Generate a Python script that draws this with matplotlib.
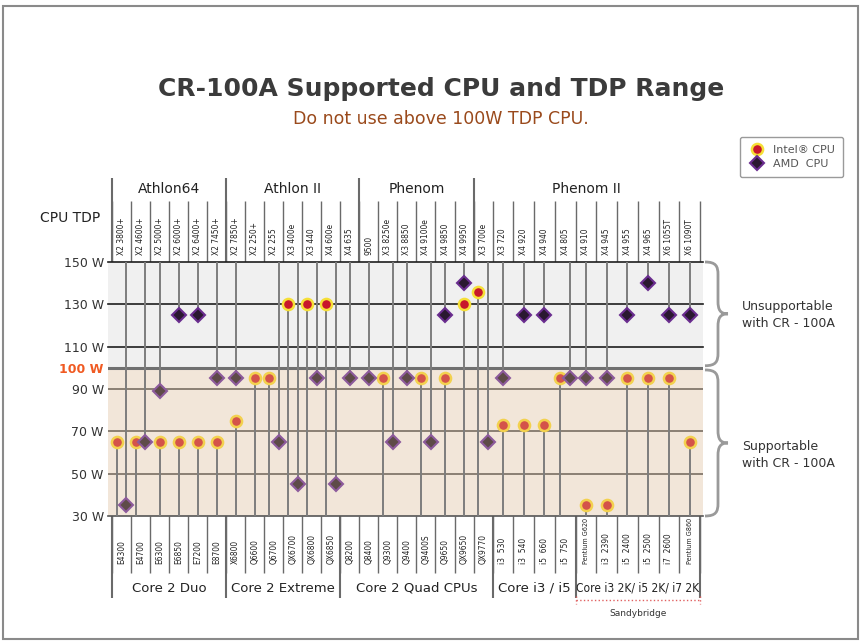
import numpy as np
import matplotlib
matplotlib.use("Agg")
import matplotlib.pyplot as plt
import matplotlib.transforms as mtransforms
from matplotlib.lines import Line2D
from matplotlib.path import Path
from matplotlib.patches import PathPatch, Rectangle

plt.rcParams['font.family'] = 'DejaVu Sans'

# dados: AMD (em cima) e Intel (em baixo), TDP em W, nan = sem ponto
amd_groups = ['Athlon64', 'Athlon II', 'Phenom', 'Phenom II']
amd_group_sizes = [6, 7, 6, 11]
amd_names = ['X2 3800+', 'X2 4600+', 'X2 5000+', 'X2 6000+', 'X2 6400+', 'X2 7450+',
             'X2 7850+', 'X2 250+', 'X2 255', 'X3 400e', 'X3 440', 'X4 600e', 'X4 635',
             '9500', 'X3 8250e', 'X3 8850', 'X4 9100e', 'X4 9850', 'X4 9950',
             'X3 700e', 'X3 720', 'X4 920', 'X4 940', 'X4 805', 'X4 910', 'X4 945',
             'X4 955', 'X4 965', 'X6 1055T', 'X6 1090T']
amd_tdp = [35, 65, 89, 125, 125, 95,
           95, np.nan, 65, 45, 95, 45, 95,
           95, 65, 95, 65, 125, 140,
           65, 95, 125, 125, 95, 95, 95, 125, 140, 125, 125]

intel_groups = ['Core 2 Duo', 'Core 2 Extreme', 'Core 2 Quad CPUs', 'Core i3 / i5',
                'Core i3 2K/ i5 2K/ i7 2K']
intel_group_sizes = [6, 6, 8, 4, 6]
intel_names = ['E4300', 'E4700', 'E6300', 'E6850', 'E7200', 'E8700',
               'X6800', 'Q6600', 'Q6700', 'QX6700', 'QX6800', 'QX6850',
               'Q8200', 'Q8400', 'Q9300', 'Q9400', 'Q9400S', 'Q9650', 'QX9650', 'QX9770',
               'i3  530', 'i3  540', 'i5  660', 'i5  750',
               'Pentium G620', 'i3  2390', 'i5  2400', 'i5  2500', 'i7  2600', 'Pentium G860']
intel_tdp = [65, 65, 65, 65, 65, 65,
             75, 95, 95, 130, 130, 130,
             np.nan, np.nan, 95, np.nan, 95, 95, 130, 136,
             73, 73, 73, 95,
             35, 35, 95, 95, 95, 65]

tdp_ticks = [30, 50, 70, 90, 100, 110, 130, 150]
limit_tdp = 100

# layout
W, H = 865, 644
fig = plt.figure(figsize=(W / 100, H / 100), dpi=100)
bg = fig.add_axes([0, 0, 1, 1])
bg.axis('off')

ax = fig.add_axes([108 / W, 1 - 516 / H, (703 - 108) / W, (516 - 262) / H])
ax.set_facecolor('none')

col_w = np.r_[np.full(20, 1.0), np.full(10, 1.09)]
edges = np.concatenate([[0], np.cumsum(col_w)])
centers = edges[:-1] + col_w / 2
unit = 588 / edges[-1]
ax.set_xlim(-4 / unit, edges[-1] + 3 / unit)
ax.set_ylim(30, 150)

amd_v = np.array(amd_tdp, dtype=float)
intel_v = np.array(intel_tdp, dtype=float)

# desloca os pontos quando as hastes se cruzam
amd_x = centers.copy()
intel_x = centers.copy()
clash = ~np.isnan(amd_v) & ~np.isnan(intel_v) & (amd_v <= intel_v + 3)
amd_x[clash] += 0.25
intel_x[clash] -= 0.25

# fundo e linhas
ax.axhspan(limit_tdp, 150, color='#f0f0f0', zorder=0)
ax.axhspan(30, limit_tdp, color='#f2e6d9', zorder=0)
for v in [150, 130, 110]:
    ax.axhline(v, color='#1e1e1e', lw=1.2, zorder=1, clip_on=False)
ax.axhline(limit_tdp, color='#707070', lw=2.2, zorder=1)
for v in [90, 70, 50]:
    ax.axhline(v, color='#8b8074', lw=1.4, zorder=1)
ax.axhline(30, color='#555555', lw=1.2, zorder=1, clip_on=False)

# hastes
m = ~np.isnan(amd_v)
ax.vlines(amd_x[m], amd_v[m], 150, colors='#7d7d7d', lw=1.4, zorder=2)
m = ~np.isnan(intel_v)
ax.vlines(intel_x[m], 30, intel_v[m], colors='#7d7d7d', lw=1.4, zorder=2)

# marcadores
up = intel_v > limit_tdp
lo = intel_v <= limit_tdp
ax.plot(intel_x[up], intel_v[up], 'o', ms=8, mfc='#c8172b', mec='#f6df36', mew=1.8,
        ls='none', zorder=4, clip_on=False)
ax.plot(intel_x[lo], intel_v[lo], 'o', ms=8, mfc='#d4534a', mec='#f3d14e', mew=1.8,
        ls='none', zorder=4, clip_on=False)
up = amd_v > limit_tdp
lo = amd_v <= limit_tdp
ax.plot(amd_x[up], amd_v[up], 'D', ms=7.5, mfc='#2a1830', mec='#6a2d8f', mew=1.5,
        ls='none', zorder=4, clip_on=False)
ax.plot(amd_x[lo], amd_v[lo], 'D', ms=7.5, mfc='#5e4b48', mec='#8d5b9c', mew=1.5,
        ls='none', zorder=4, clip_on=False)

# eixo y
ax.set_yticks(tdp_ticks)
ax.set_yticklabels([f'{v} W' for v in tdp_ticks])
ax.tick_params(axis='y', length=0, pad=3, labelsize=9, labelcolor='#333333')
for lab, v in zip(ax.get_yticklabels(), tdp_ticks):
    if v == limit_tdp:
        lab.set_color('#f05a22')
        lab.set_fontweight('bold')
ax.set_xticks([])
for s in ax.spines.values():
    s.set_visible(False)

# cabeçalhos (x em colunas, y em pixels)
tr = mtransforms.blended_transform_factory(ax.transData, bg.transData)
line_c = '#6a6a6a'

bg.vlines(edges, 201, 262, colors=line_c, lw=1, transform=tr)
amd_starts = np.concatenate([[0], np.cumsum(amd_group_sizes)])
bg.vlines(edges[amd_starts[:-1]], 178, 262, colors=line_c, lw=1.5, transform=tr)
for i, name in enumerate(amd_names):
    bg.text(centers[i], 255, name, rotation=90, ha='center', va='bottom', fontsize=6,
            fontstretch='condensed', color='#222222', transform=tr)
for g, name in enumerate(amd_groups):
    mid = (edges[amd_starts[g]] + edges[amd_starts[g + 1]]) / 2
    bg.text(mid, 189, name, ha='center', va='center', fontsize=10, color='#222222',
            transform=tr)

bg.vlines(edges, 516, 573, colors=line_c, lw=1, transform=tr)
intel_starts = np.concatenate([[0], np.cumsum(intel_group_sizes)])
bg.vlines(edges[intel_starts], 516, 598, colors=line_c, lw=1.5, transform=tr)
for i, name in enumerate(intel_names):
    fs = 5.2 if name.startswith('Pentium') else 6
    bg.text(centers[i], 564, name, rotation=90, ha='center', va='bottom', fontsize=fs,
            fontstretch='condensed', color='#222222', transform=tr)
for g, name in enumerate(intel_groups):
    mid = (edges[intel_starts[g]] + edges[intel_starts[g + 1]]) / 2
    last = g == len(intel_groups) - 1
    bg.text(mid, 588, name, ha='center', va='center', fontsize=8.6 if last else 9.5,
            fontstretch='condensed' if last else 'normal', color='#222222', transform=tr)

# Sandybridge
sb0, sb1 = edges[intel_starts[-2]], edges[-1]
bg.plot([sb0, sb1], [600, 600], color='#e06060', ls=':', lw=1, transform=tr)
bg.plot([sb0, sb0], [596, 604], color='#e06060', ls=':', lw=1, transform=tr)
bg.plot([sb1, sb1], [596, 604], color='#e06060', ls=':', lw=1, transform=tr)
bg.text((sb0 + sb1) / 2, 613, 'Sandybridge', ha='center', va='center', fontsize=6.5,
        color='#333333', transform=tr)

# chaves à direita (x em pixels, y em W)
tr2 = mtransforms.blended_transform_factory(bg.transData, ax.transData)


def brace(top, bot):
    mid = (top + bot) / 2
    r = 6
    verts = [(705, top), (716, top), (718, top - 2), (718, top - r),
             (718, mid + r), (718, mid + 2), (720, mid), (728, mid),
             (720, mid), (718, mid - 2), (718, mid - r),
             (718, bot + r), (718, bot + 2), (716, bot), (705, bot)]
    codes = [Path.MOVETO, Path.CURVE4, Path.CURVE4, Path.CURVE4,
             Path.LINETO, Path.CURVE4, Path.CURVE4, Path.CURVE4,
             Path.CURVE4, Path.CURVE4, Path.CURVE4,
             Path.LINETO, Path.CURVE4, Path.CURVE4, Path.CURVE4]
    bg.add_patch(PathPatch(Path(verts, codes), fill=False, edgecolor='#9a9a9a', lw=2,
                           transform=tr2, clip_on=False))


brace(150, 101)
brace(99, 30)
bg.text(742, 125, 'Unsupportable\nwith CR - 100A', ha='left', va='center', fontsize=9,
        color='#333333', linespacing=1.4, transform=tr2)
bg.text(742, 59, 'Supportable\nwith CR - 100A', ha='left', va='center', fontsize=9,
        color='#333333', linespacing=1.4, transform=tr2)

# títulos
bg.text(441, 89, 'CR-100A Supported CPU and TDP Range', ha='center', va='center',
        fontsize=18, fontweight='bold', color='#3b3b3b')
bg.text(441, 119, 'Do not use above 100W TDP CPU.', ha='center', va='center',
        fontsize=12.5, color='#9a4a1c')
bg.text(70, 218, 'CPU TDP', ha='center', va='center', fontsize=10, color='#222222')

# moldura
bg.add_patch(Rectangle((3, 6), 855, 633, fill=False, edgecolor='#8a8a8a', lw=1.5))

# legenda
handles = [Line2D([], [], marker='o', ls='none', ms=8, mfc='#c8172b', mec='#f6df36', mew=1.8),
           Line2D([], [], marker='D', ls='none', ms=7, mfc='#2a1830', mec='#6a2d8f', mew=1.5)]
leg = fig.legend(handles, ['Intel® CPU', 'AMD  CPU'], loc='upper right',
                 bbox_to_anchor=(843 / W, 1 - 137 / H), fontsize=8, frameon=True,
                 fancybox=True, edgecolor='#9a9a9a', framealpha=1, labelcolor='#555555',
                 handletextpad=0.7, borderpad=0.7, labelspacing=0.4, handlelength=1.6,
                 borderaxespad=0)
leg.get_frame().set_linewidth(1.0)

bg.set_xlim(0, W)
bg.set_ylim(H, 0)

plt.savefig('out.png', dpi=100)
